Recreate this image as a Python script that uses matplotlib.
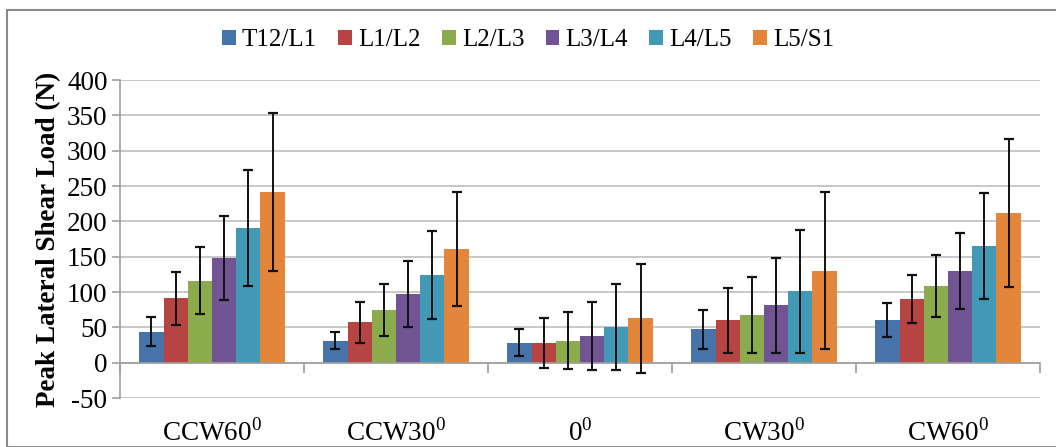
import matplotlib
matplotlib.use("Agg")
import matplotlib.pyplot as plt
import numpy as np
from matplotlib.patches import Rectangle
import matplotlib.transforms as mtransforms

categories = [r"CCW60$^{0}$", r"CCW30$^{0}$", r"0$^{0}$", r"CW30$^{0}$", r"CW60$^{0}$"]
series = ["T12/L1", "L1/L2", "L2/L3", "L3/L4", "L4/L5", "L5/S1"]
means = {
    "T12/L1": [44, 31, 28, 47, 60],
    "L1/L2": [91, 57, 28, 60, 90],
    "L2/L3": [116, 75, 31, 67, 108],
    "L3/L4": [148, 97, 38, 81, 130],
    "L4/L5": [190, 124, 50, 101, 165],
    "L5/S1": [242, 161, 63, 130, 212],
}
errors = {
    "T12/L1": [20, 12, 19, 27, 24],
    "L1/L2": [37, 29, 35, 46, 34],
    "L2/L3": [47, 37, 40, 54, 44],
    "L3/L4": [60, 47, 48, 67, 54],
    "L4/L5": [82, 62, 61, 87, 75],
    "L5/S1": [112, 81, 77, 111, 105],
}
colors = ["#4673AA", "#B64443", "#8CAB4D", "#715493", "#4299B5", "#E3863C"]
yticks = [-50, 0, 50, 100, 150, 200, 250, 300, 350, 400]

plt.rcParams['font.family'] = ['Liberation Serif', 'DejaVu Serif']
plt.rcParams['mathtext.fontset'] = 'custom'
plt.rcParams['mathtext.rm'] = 'Liberation Serif'

FS = 19.5

fig = plt.figure(figsize=(10.56, 4.47), dpi=100)
ax = fig.add_axes([120/1056, 1-398/447, 920/1056, 318/447])

# figure border
fig.patches.append(Rectangle((7/1056, 0), 1.0, 1-10/447, transform=fig.transFigure,
                             fill=False, edgecolor="#8a8a8a", linewidth=1.5))

n = len(series)
x = np.arange(len(categories))
bw = 0.79 / n
for i, s in enumerate(series):
    pos = x - 0.79/2 + bw*(i+0.5)
    ax.bar(pos, means[s], width=bw, color=colors[i], label=s, zorder=3)
    ax.errorbar(pos, means[s], yerr=errors[s], fmt='none', ecolor='#111111',
                elinewidth=1.4, capsize=3.5, capthick=1.6, zorder=4)

ax.set_xlim(-0.5, len(categories)-0.5)
ax.set_ylim(-50, 400)
ax.set_yticks(yticks)
ax.set_yticklabels([str(v) for v in yticks], fontsize=FS)
ax.yaxis.grid(True, color="#BEBEBE", linewidth=1.2, zorder=0)
ax.set_axisbelow(True)

for sp in ["top", "right"]:
    ax.spines[sp].set_visible(False)
ax.spines["left"].set_color("#A0A0A0")
ax.spines["left"].set_linewidth(1.2)
ax.spines["bottom"].set_position(("data", 0))
ax.spines["bottom"].set_color("#A0A0A0")
ax.spines["bottom"].set_linewidth(1.2)
ax.spines["bottom"].set_zorder(3.5)

ax.set_xticks(np.arange(-0.5, len(categories), 1.0))
ax.set_xticklabels([])
ax.tick_params(axis='x', direction='out', length=7, color="#A0A0A0", width=1.2)
ax.tick_params(axis='y', direction='out', length=6, color="#A0A0A0", width=1.2, pad=3)

trans = mtransforms.blended_transform_factory(ax.transData, ax.transAxes)
for xi, c in zip(x, categories):
    ax.text(xi, -0.11, c, transform=trans, ha='center', va='center', fontsize=FS)

ax.set_ylabel("Peak Lateral Shear Load (N)", fontsize=FS, fontweight='bold', labelpad=4)

leg = fig.legend(loc='center', bbox_to_anchor=(0.5, 1-40/447), ncol=6, frameon=False,
                 fontsize=18, handlelength=0.55, handleheight=0.55, handletextpad=0.25,
                 columnspacing=0.85)

fig.savefig("out.png", dpi=100)
